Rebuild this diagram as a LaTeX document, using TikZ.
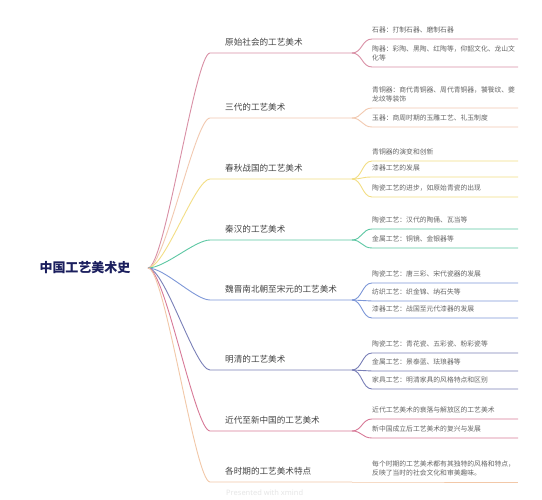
\documentclass[tikz,border=0pt]{standalone}
\usepackage{fontspec}
\newfontfamily\cjk{Noto Sans CJK SC}
\newfontfamily\wmfont{Noto Sans}
\definecolor{rootc}{HTML}{1B1F5E}
\definecolor{topicc}{HTML}{444444}
\definecolor{subc}{HTML}{666666}
\definecolor{cA}{HTML}{D98FA5}
\definecolor{cB}{HTML}{F2C9B0}
\definecolor{cC}{HTML}{F3DE85}
\definecolor{cD}{HTML}{5CC7A3}
\definecolor{cE}{HTML}{7E98D8}
\definecolor{cF}{HTML}{7A80B8}
\definecolor{cG}{HTML}{D87A98}
\definecolor{cH}{HTML}{F2C8A8}
\definecolor{wmc}{HTML}{E6E6E6}
\begin{document}
\begin{tikzpicture}[x=1pt,y=-1pt,
  rootnode/.style={font=\cjk\bfseries\fontsize{13}{15}\selectfont, text=rootc, inner sep=0},
  topic/.style={font=\cjk\fontsize{8.6}{10}\selectfont, text=topicc, inner sep=0, anchor=base west},
  sub/.style={font=\cjk\fontsize{6.8}{8.6}\selectfont, text=subc, inner sep=0, anchor=base west, align=left},
  link/.style={line width=0.9pt}]
\useasboundingbox (0,0) rectangle (542,500);
\fill[white] (0,0) rectangle (542,500);

% root
\node[rootnode] (root) at (85,268) {中国工艺美术史};
\coordinate (r) at (148,268);

% branch coordinates
\foreach \i/\y in {1/53,2/118,3/179,4/240,5/300,6/370,7/431,8/482}{
  \coordinate (b\i) at (210,\y);
  \coordinate (b\i e) at (352,\y);
}

% topic texts
\node[topic] (t1) at (225,45.5) {原始社会的工艺美术};
\node[topic] (t2) at (225,110.5) {三代的工艺美术};
\node[topic] (t3) at (225,171.5) {春秋战国的工艺美术};
\node[topic] (t4) at (225,232.5) {秦汉的工艺美术};
\node[topic] (t5) at (225,292.5) {魏晋南北朝至宋元的工艺美术};
\node[topic] (t6) at (225,362.5) {明清的工艺美术};
\node[topic] (t7) at (225,423.5) {近代至新中国的工艺美术};
\node[topic] (t8) at (225,474.5) {各时期的工艺美术特点};

% child coordinates
\foreach \n/\y in {11/39,12/67,21/108,22/127,31/161,32/177,33/197,41/229,42/248,51/283,52/301,53/318,61/353,62/371,63/389,71/419,72/438,81/482}{
  \coordinate (c\n) at (372,\y);
  \coordinate (c\n e) at (518,\y);
}

% child texts (anchor = baseline of last line)
\node[sub] (s11) at (372,32.5) {石器：打制石器、磨制石器};
\node[sub] (s12) at (372,60.5) {陶器：彩陶、黑陶、红陶等，仰韶文化、龙山文\\化等};
\node[sub] (s21) at (372,101.5) {青铜器：商代青铜器、周代青铜器，饕餮纹、夔\\龙纹等装饰};
\node[sub] (s22) at (372,120.5) {玉器：商周时期的玉雕工艺、礼玉制度};
\node[sub] (s31) at (372,154.5) {青铜器的演变和创新};
\node[sub] (s32) at (372,170.5) {漆器工艺的发展};
\node[sub] (s33) at (372,190.5) {陶瓷工艺的进步，如原始青瓷的出现};
\node[sub] (s41) at (372,222.5) {陶瓷工艺：汉代的陶俑、瓦当等};
\node[sub] (s42) at (372,241.5) {金属工艺：铜镜、金银器等};
\node[sub] (s51) at (372,276.5) {陶瓷工艺：唐三彩、宋代瓷器的发展};
\node[sub] (s52) at (372,294.5) {纺织工艺：织金锦、纳石失等};
\node[sub] (s53) at (372,311.5) {漆器工艺：战国至元代漆器的发展};
\node[sub] (s61) at (372,346.5) {陶瓷工艺：青花瓷、五彩瓷、粉彩瓷等};
\node[sub] (s62) at (372,364.5) {金属工艺：景泰蓝、珐琅器等};
\node[sub] (s63) at (372,382.5) {家具工艺：明清家具的风格特点和区别};
\node[sub] (s71) at (372,412.5) {近代工艺美术的衰落与解放区的工艺美术};
\node[sub] (s72) at (372,431.5) {新中国成立后工艺美术的复兴与发展};
\node[sub] (s81) at (372,475.5) {每个时期的工艺美术都有其独特的风格和特点，\\反映了当时的社会文化和审美趣味。};

% connectors root -> branches, branch underlines
\foreach \i/\c in {1/cA,2/cB,3/cC,4/cD,5/cE,6/cF,7/cG,8/cH}{
  \draw[link,\c] (r) .. controls +(17,0) and +(-15,0) .. (b\i) -- (b\i e);
}

% branch -> children
\foreach \b/\n/\c in {1/11/cA,1/12/cA,2/21/cB,2/22/cB,3/31/cC,3/32/cC,3/33/cC,4/41/cD,4/42/cD,5/51/cE,5/52/cE,5/53/cE,6/61/cF,6/62/cF,6/63/cF,7/71/cG,7/72/cG,8/81/cH}{
  \draw[link,\c] (b\b e) .. controls +(10,0) and +(-10,0) .. (c\n) -- (c\n e);
}

% watermark
\node[font=\wmfont\fontsize{7.5}{9}\selectfont, text=wmc, inner sep=0, anchor=base west] (wm) at (226,496) {Presented with \textbf{xmind}};
\end{tikzpicture}
\end{document}
